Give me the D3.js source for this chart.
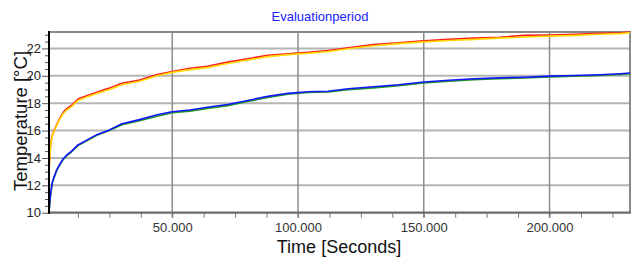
<!DOCTYPE html>
<html>
<head>
<meta charset="utf-8">
<script src="https://cdn.jsdelivr.net/npm/d3@7"></script>
<style>
  html, body { margin: 0; padding: 0; background: #fff; }
  svg { display: block; font-family: Arial, "Liberation Sans", sans-serif; }
</style>
</head>
<body>
<svg id="chart" width="635" height="262"></svg>
<script>
// ---- data ----
const title = "Evaluationperiod";
const xLabel = "Time [Seconds]";
const yLabel = "Temperature [°C]";

const timeSec = [1000, 1400, 1800, 2300, 3000, 4000, 5000, 6500, 8000, 10000,
  12500, 16000, 20000, 25000, 30000, 37000, 44000, 50000, 57000, 64000,
  72000, 80000, 88000, 96000, 104000, 112000, 120000, 130000, 140000, 150000,
  160000, 170000, 180000, 190000, 200000, 210000, 220000, 228000, 232000];

const redSeries = [13.0, 14.4, 15.2, 15.65, 16.0, 16.4, 16.8, 17.3, 17.6, 17.85,
  18.3, 18.55, 18.8, 19.1, 19.45, 19.7, 20.1, 20.32, 20.55, 20.7,
  21.0, 21.25, 21.5, 21.6, 21.72, 21.85, 22.05, 22.28, 22.42, 22.55,
  22.66, 22.75, 22.82, 22.95, 22.97, 23.03, 23.1, 23.15, 23.2];

const yellowSeries = [12.95, 14.3, 15.1, 15.6, 15.95, 16.35, 16.75, 17.2, 17.5, 17.75,
  18.2, 18.45, 18.7, 19.0, 19.35, 19.6, 20.0, 20.25, 20.45, 20.6,
  20.9, 21.15, 21.4, 21.55, 21.65, 21.78, 21.98, 22.2, 22.35, 22.48,
  22.58, 22.66, 22.75, 22.84, 22.9, 22.95, 23.04, 23.08, 23.14];

const greenSeries = [10.0, 10.95, 11.55, 12.15, 12.55, 13.05, 13.4, 13.85, 14.15, 14.45,
  14.9, 15.25, 15.65, 16.0, 16.42, 16.72, 17.05, 17.3, 17.42, 17.62,
  17.82, 18.12, 18.42, 18.66, 18.78, 18.82, 18.98, 19.12, 19.28, 19.48,
  19.6, 19.72, 19.78, 19.84, 19.92, 19.97, 20.03, 20.1, 20.16];

const blueSeries = [10.0, 11.0, 11.6, 12.2, 12.6, 13.1, 13.45, 13.9, 14.2, 14.5,
  14.95, 15.3, 15.7, 16.05, 16.5, 16.8, 17.15, 17.37, 17.5, 17.7,
  17.9, 18.2, 18.5, 18.72, 18.84, 18.87, 19.05, 19.2, 19.35, 19.55,
  19.68, 19.78, 19.85, 19.9, 19.98, 20.02, 20.08, 20.15, 20.2];

const xMajorTicks = [50000, 100000, 150000, 200000];
const xMinorTicks = [12500, 25000, 37500, 62500, 75000, 87500, 112500, 125000, 137500,
  162500, 175000, 187500, 212500, 225000];
const yMajorTicks = [10, 12, 14, 16, 18, 20, 22];
const yMinorTicks = [10.5, 11, 11.5, 12.5, 13, 13.5, 14.5, 15, 15.5, 16.5, 17, 17.5,
  18.5, 19, 19.5, 20.5, 21, 21.5, 22.5, 23];

const seriesList = [
  { name: "red", values: redSeries, color: "#ff1a1a" },
  { name: "yellow", values: yellowSeries, color: "#ffd800" },
  { name: "green", values: greenSeries, color: "#1f9a1f" },
  { name: "blue", values: blueSeries, color: "#1414ff" }
];

// ---- layout ----
const svg = d3.select("#chart");
const L = 49, R = 630, T = 32, B = 212.7;

const x = d3.scaleLinear().domain([1000, 232000]).range([L, R]);
const y = d3.scaleLinear().domain([10, 23.2]).range([B, T]);

const fmtX = d3.formatLocale({ decimal: ",", thousands: ".", grouping: [3], currency: ["", "€"] }).format(",.0f");

// gridlines
svg.append("g").selectAll("line").data(yMajorTicks.filter(d => d > 10)).join("line")
  .attr("x1", L).attr("x2", R)
  .attr("y1", d => y(d)).attr("y2", d => y(d))
  .attr("stroke", "#b4b4b4").attr("stroke-width", 2);

svg.append("g").selectAll("line").data(xMajorTicks).join("line")
  .attr("x1", d => x(d)).attr("x2", d => x(d))
  .attr("y1", T).attr("y2", B + 5)
  .attr("stroke", "#8c8c8c").attr("stroke-width", 1.5);

// frame (top, right)
svg.append("line").attr("x1", L).attr("x2", R + 1).attr("y1", T).attr("y2", T)
  .attr("stroke", "#8a8a8a").attr("stroke-width", 2);
svg.append("line").attr("x1", R).attr("x2", R).attr("y1", T).attr("y2", B)
  .attr("stroke", "#8a8a8a").attr("stroke-width", 2);

// series
const line = d3.line().x((d, i) => x(timeSec[i])).y(d => y(d));
seriesList.forEach(s => {
  svg.append("path").datum(s.values)
    .attr("fill", "none").attr("stroke", s.color)
    .attr("stroke-width", 1.6).attr("stroke-linejoin", "round")
    .attr("d", line);
});

// bottom axis
const xAxisG = svg.append("g").attr("transform", `translate(0,${B})`);
xAxisG.call(d3.axisBottom(x).tickValues(xMinorTicks).tickSize(5).tickFormat(""));
xAxisG.append("g").call(d3.axisBottom(x).tickValues(xMajorTicks).tickSize(5).tickPadding(5).tickFormat(fmtX));
xAxisG.selectAll(".domain").remove();
xAxisG.selectAll("line").attr("stroke", "#777").attr("stroke-width", 1);
xAxisG.selectAll("text").attr("fill", "#333").style("font-size", "13px");
svg.append("line").attr("x1", L).attr("x2", R + 1).attr("y1", B).attr("y2", B)
  .attr("stroke", "#6a6a6a").attr("stroke-width", 2.2);

// left axis
const yAxisG = svg.append("g").attr("transform", `translate(${L},0)`);
yAxisG.call(d3.axisLeft(y).tickValues(yMinorTicks).tickSize(4).tickFormat(""));
yAxisG.append("g").call(d3.axisLeft(y).tickValues(yMajorTicks).tickSize(7).tickPadding(1).tickFormat(d3.format("d")));
yAxisG.selectAll(".domain").remove();
yAxisG.selectAll("line").attr("stroke", "#555").attr("stroke-width", 1);
yAxisG.selectAll("text").attr("fill", "#222").style("font-size", "13px");
svg.append("line").attr("x1", L).attr("x2", L).attr("y1", T - 1).attr("y2", B + 1)
  .attr("stroke", "#000").attr("stroke-width", 2);

// titles
svg.append("text").attr("x", 320).attr("y", 21).attr("text-anchor", "middle")
  .attr("fill", "#2020ff").style("font-size", "13px").text(title);
svg.append("text").attr("x", 339).attr("y", 253).attr("text-anchor", "middle")
  .attr("fill", "#111").style("font-size", "18px").text(xLabel);
svg.append("text").attr("transform", "translate(27,121) rotate(-90)").attr("text-anchor", "middle")
  .attr("fill", "#111").style("font-size", "18.5px").text(yLabel);
</script>
</body>
</html>
